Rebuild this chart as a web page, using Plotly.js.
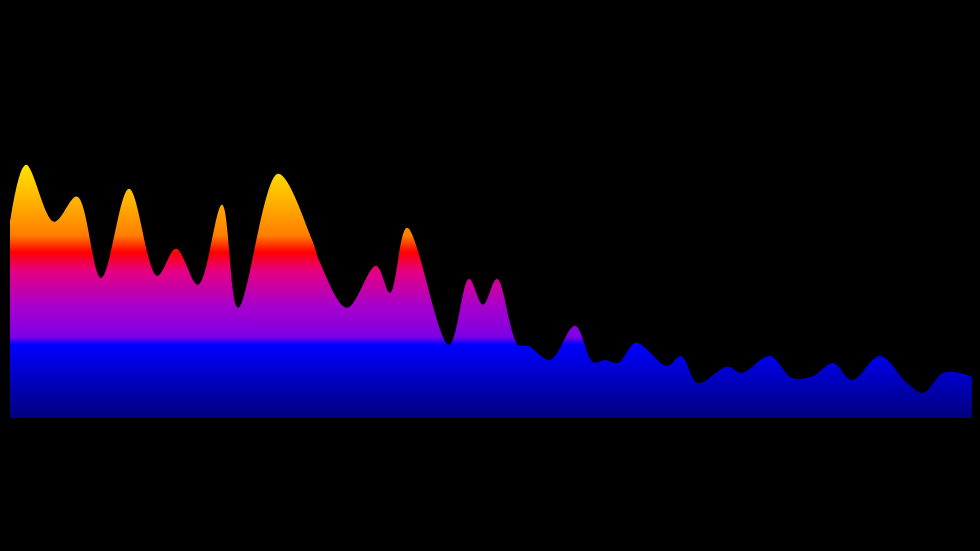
<!DOCTYPE html>
<html>
<head>
<meta charset="utf-8">
<script src="https://cdn.plot.ly/plotly-3.0.1.min.js"></script>
<style>html,body{margin:0;padding:0;background:#000;}#chart{width:980px;height:551px;}</style>
</head>
<body>
<div id="chart"></div>
<script>
var xValues = [0, 16, 44, 67, 91, 119, 147, 166, 188, 212, 228, 268, 302, 310, 337, 366, 380, 397, 439, 459, 473, 487, 508, 518, 540, 565, 583, 595, 608, 626, 657, 671, 688, 717, 732, 760, 782, 803, 823, 842, 870, 897, 913, 933, 950, 962];
var yValues = [77.6, 100.0, 77.5, 87.4, 55.3, 90.5, 56.1, 66.8, 52.6, 84.2, 43.5, 96.4, 70.4, 61.3, 43.5, 60.1, 49.4, 75.1, 28.9, 54.9, 44.7, 54.9, 28.9, 28.5, 22.9, 36.4, 22.1, 22.9, 21.7, 29.6, 20.6, 24.5, 13.8, 20.2, 17.8, 24.5, 15.8, 16.6, 21.7, 15.0, 24.5, 13.8, 9.9, 17.8, 17.8, 16.2];
var gradientColors = [
  [0, 'rgb(0,0,125)'],
  [0.29, 'rgb(0,0,255)'],
  [0.32, 'rgb(125,0,230)'],
  [0.45, 'rgb(170,0,200)'],
  [0.58, 'rgb(230,0,130)'],
  [0.655, 'rgb(255,0,0)'],
  [0.72, 'rgb(255,125,0)'],
  [0.86, 'rgb(255,180,0)'],
  [1, 'rgb(255,228,0)']
];

var trace = {
  x: xValues,
  y: yValues,
  type: 'scatter',
  mode: 'lines',
  line: {shape: 'spline', smoothing: 1, width: 0, color: 'rgba(0,0,0,0)'},
  fill: 'tozeroy',
  fillgradient: {type: 'vertical', colorscale: gradientColors, start: 0, stop: 100},
  hoverinfo: 'none'
};

var layout = {
  width: 980,
  height: 551,
  paper_bgcolor: '#000',
  plot_bgcolor: '#000',
  margin: {l: 10, r: 8, t: 114, b: 133},
  showlegend: false,
  xaxis: {range: [0, 962], visible: false, showgrid: false, zeroline: false},
  yaxis: {range: [0, 120], visible: false, showgrid: false, zeroline: false}
};

Plotly.newPlot('chart', [trace], layout, {displayModeBar: false, staticPlot: true});
</script>
</body>
</html>
